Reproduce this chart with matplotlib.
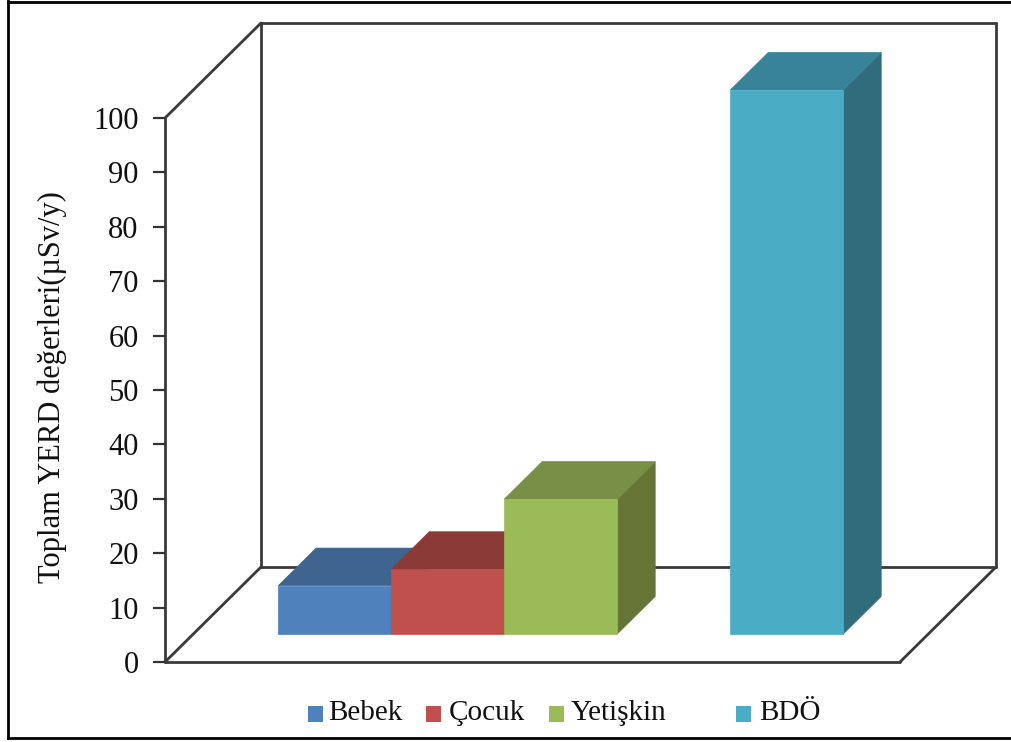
import matplotlib
matplotlib.use("Agg")
import matplotlib.pyplot as plt
from matplotlib.patches import Polygon, Rectangle
from matplotlib.lines import Line2D

# Chart data
categories = ["Bebek", "Çocuk", "Yetişkin", "BDÖ"]
values = [8.9, 11.9, 24.8, 100]
slots = [0, 1, 2, 4]
y_ticks = list(range(0, 101, 10))
y_label = "Toplam YERD değerleri(µSv/y)"

front_colors = ["#4F81BD", "#C0504D", "#9BBB59", "#4BACC6"]
top_colors = ["#3F648F", "#8C3A38", "#788F45", "#38829A"]
side_colors = ["#345377", "#773130", "#647536", "#316C7C"]

W, H = 1011, 742
plt.rcParams["font.family"] = ["Liberation Serif", "DejaVu Serif"]
fig = plt.figure(figsize=(W / 100, H / 100), dpi=100, facecolor="white")

# Front plane of the box: x is measured in bar widths, y in value units
left, right, bottom, top = 165, 900, 662, 118
ax = fig.add_axes([left / W, 1 - bottom / H, (right - left) / W, (bottom - top) / H])
bar_w_px = 113
ax.set_xlim(0, (right - left) / bar_w_px)
ax.set_ylim(0, 100)
ax.patch.set_visible(False)
for s in ax.spines.values():
    s.set_visible(False)

px_per_val = (bottom - top) / 100
DX = 96 / bar_w_px   # full depth of the box in x units
DY = 95 / px_per_val  # full depth of the box in value units


def oblique(x, v, d):
    """Oblique projection of a point at depth fraction d (0 front, 1 back)."""
    return x + d * DX, v + d * DY


x_max = ax.get_xlim()[1]
line_kw = dict(color="#3a3a3a", lw=2.0, clip_on=False, solid_capstyle="round", zorder=1)
edges = [
    ((0, 0, 0), (0, 100, 0)),
    ((0, 0, 0), (x_max, 0, 0)),
    ((0, 0, 0), (0, 0, 1)),
    ((0, 100, 0), (0, 100, 1)),
    ((x_max, 0, 0), (x_max, 0, 1)),
    ((0, 0, 1), (0, 100, 1)),
    ((0, 100, 1), (x_max, 100, 1)),
    ((x_max, 0, 1), (x_max, 100, 1)),
    ((0, 0, 1), (x_max, 0, 1)),
]
for a, b in edges:
    pa, pb = oblique(*a), oblique(*b)
    ax.add_line(Line2D([pa[0], pb[0]], [pa[1], pb[1]], **line_kw))

# Bars stand partway into the box
d0, d1 = 28 / 95, 65.5 / 95
x_start = (278 - 28 - left) / bar_w_px
for slot, val, fc, tc, sc in zip(slots, values, front_colors, top_colors, side_colors):
    x0, x1 = x_start + slot, x_start + slot + 1
    faces = [
        (sc, [(x1, 0, d0), (x1, 0, d1), (x1, val, d1), (x1, val, d0)]),
        (tc, [(x0, val, d0), (x1, val, d0), (x1, val, d1), (x0, val, d1)]),
        (fc, [(x0, 0, d0), (x1, 0, d0), (x1, val, d0), (x0, val, d0)]),
    ]
    for color, pts in faces:
        ax.add_patch(Polygon([oblique(*p) for p in pts], closed=True, facecolor=color,
                             edgecolor=color, lw=0.5, clip_on=False, zorder=3))

ax.set_xticks([])
ax.set_yticks(y_ticks)
ax.tick_params(axis="y", length=9, width=1.6, color="#333333", labelsize=22,
               labelcolor="#111111", pad=10)
fig.text(52 / W, 1 - 387 / H, y_label, rotation=90, ha="center", va="center",
         fontsize=22, color="#111111")

# Legend, placed by hand because the entries are unevenly spaced
legend_swatch_x = [308, 426, 549, 736]
legend_text_x = [328, 449, 571, 759]
for name, color, sx, tx in zip(categories, front_colors, legend_swatch_x, legend_text_x):
    fig.add_artist(Rectangle((sx / W, 1 - 722 / H), 15 / W, 16 / H, transform=fig.transFigure,
                             facecolor=color, edgecolor="none"))
    fig.text(tx / W, 1 - 713 / H, name, ha="left", va="center", fontsize=21, color="#111111")

# Outer frame: left, top and bottom rules only
frame_kw = dict(color="black", lw=2.0, transform=fig.transFigure)
fig.add_artist(Line2D([8 / W, 8 / W], [1 - 738 / H, 1 - 1 / H], **frame_kw))
fig.add_artist(Line2D([8 / W, 1], [1 - 1.5 / H, 1 - 1.5 / H], **frame_kw))
fig.add_artist(Line2D([8 / W, 1], [1 - 738 / H, 1 - 738 / H], **frame_kw))

fig.savefig("out.png", dpi=100, facecolor="white")
